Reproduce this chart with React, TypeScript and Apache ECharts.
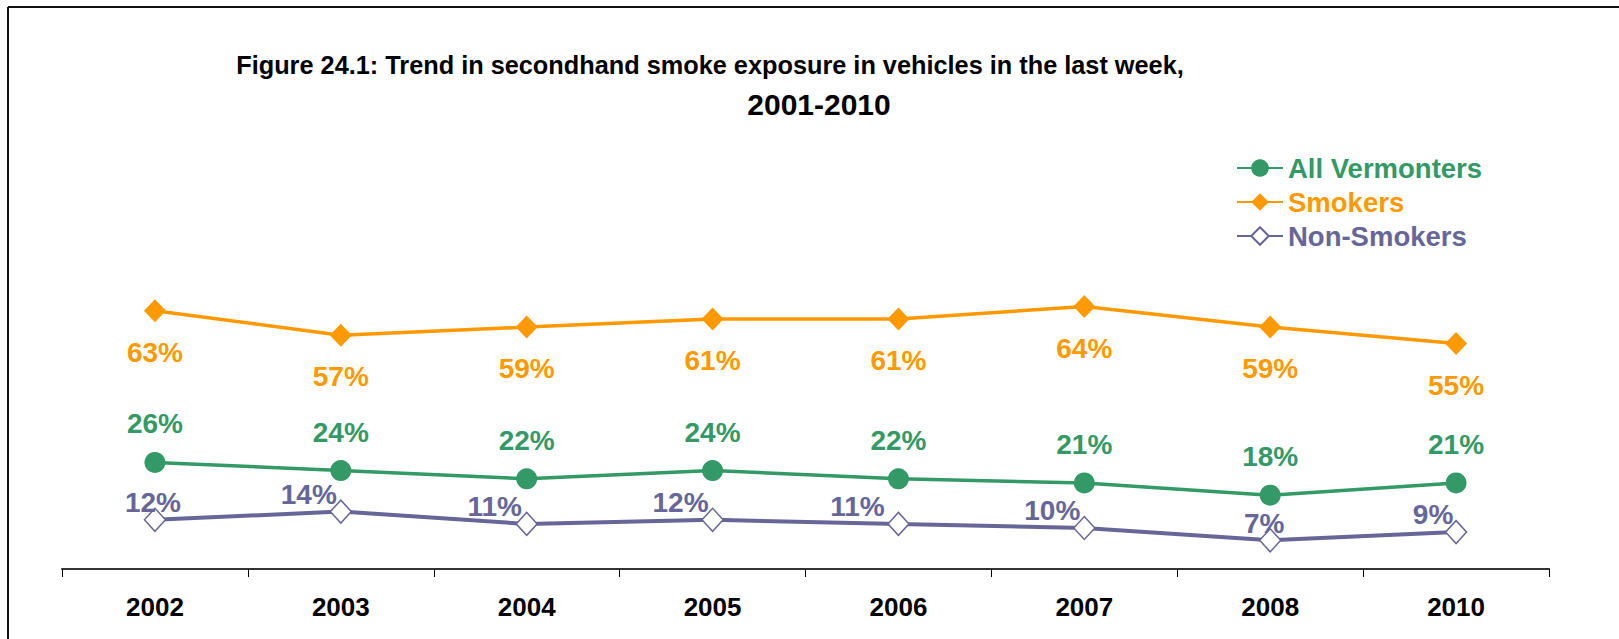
import React, { useEffect, useRef } from "react";
import * as echarts from "echarts";

const years = ["2002", "2003", "2004", "2005", "2006", "2007", "2008", "2010"];
const allVermonters = [26, 24, 22, 24, 22, 21, 18, 21];
const smokers = [63, 57, 59, 61, 61, 64, 59, 55];
const nonSmokers = [12, 14, 11, 12, 11, 10, 7, 9];

const GREEN = "#339966";
const ORANGE = "#FF9900";
const PURPLE = "#666699";
const FONT = "'Liberation Sans', Arial, sans-serif";

export default function App() {
  const ref = useRef<HTMLDivElement>(null);

  useEffect(() => {
    if (!ref.current) return;
    const chart = echarts.init(ref.current, undefined, { renderer: "svg" });
    const nonNudge = [-2, -32, -32, -32, -41, -32, -6, -23];
    const labelBase = { show: true, fontFamily: FONT, fontWeight: "bold" as const, fontSize: 28, formatter: "{c}%" };

    chart.setOption({
      animation: false,
      backgroundColor: "#ffffff",
      title: [
        {
          text: "Figure 24.1: Trend in secondhand smoke exposure in vehicles in the last week,",
          left: 705,
          top: 47,
          textAlign: "center",
          textStyle: { fontFamily: FONT, fontWeight: "bold", fontSize: 25.3, color: "#000" },
        },
        {
          text: "2001-2010",
          left: 814,
          top: 84,
          textAlign: "center",
          textStyle: { fontFamily: FONT, fontWeight: "bold", fontSize: 30, color: "#000" },
        },
      ],
      legend: {
        orient: "vertical",
        left: 1231,
        top: 149,
        itemWidth: 46,
        itemHeight: 22,
        itemGap: 6,
        textStyle: { fontFamily: FONT, fontWeight: "bold", fontSize: 27.5 },
        data: [
          { name: "All Vermonters", textStyle: { color: GREEN } },
          { name: "Smokers", textStyle: { color: ORANGE } },
          { name: "Non-Smokers", textStyle: { color: PURPLE } },
        ],
      },
      grid: { left: 62, right: 70, top: 159, bottom: 70 },
      xAxis: {
        type: "category",
        data: years,
        boundaryGap: true,
        axisLine: { lineStyle: { color: "#333", width: 2 } },
        axisTick: { show: true, length: 8, lineStyle: { color: "#000", width: 1 } },
        axisLabel: { fontFamily: FONT, fontWeight: "bold", fontSize: 26, color: "#000", margin: 25 },
      },
      yAxis: { type: "value", min: 0, max: 100, show: false, splitLine: { show: false } },
      series: [
        {
          name: "All Vermonters",
          type: "line",
          data: allVermonters,
          symbol: "circle",
          symbolSize: 21,
          lineStyle: { color: GREEN, width: 3.5 },
          itemStyle: { color: GREEN },
          label: { ...labelBase, color: GREEN, position: "top", distance: 14 },
          z: 3,
        },
        {
          name: "Smokers",
          type: "line",
          data: smokers,
          symbol: "diamond",
          symbolSize: [22, 23],
          lineStyle: { color: ORANGE, width: 3.5 },
          itemStyle: { color: ORANGE },
          label: { ...labelBase, color: ORANGE, position: "bottom", distance: 16 },
          z: 3,
        },
        {
          name: "Non-Smokers",
          type: "line",
          data: nonSmokers.map((v, i) => ({ value: v, label: { offset: [nonNudge[i], 13] } })),
          symbol: "diamond",
          symbolSize: [21, 23],
          showAllSymbol: true,
          lineStyle: { color: PURPLE, width: 4 },
          itemStyle: { color: "#ffffff", borderColor: PURPLE, borderWidth: 1.5 },
          label: { ...labelBase, color: PURPLE, position: "top", distance: 4 },
          z: 2,
        },
      ],
      graphic: [
        { type: "line", shape: { x1: 8, y1: 7, x2: 1619, y2: 7 }, style: { stroke: "#111", lineWidth: 2 } },
        { type: "line", shape: { x1: 8, y1: 7, x2: 8, y2: 639 }, style: { stroke: "#111", lineWidth: 2 } },
      ],
    });
    return () => chart.dispose();
  }, []);

  return <div ref={ref} style={{ position: "absolute", left: 0, top: 0, width: 1619, height: 639 }} />;
}
